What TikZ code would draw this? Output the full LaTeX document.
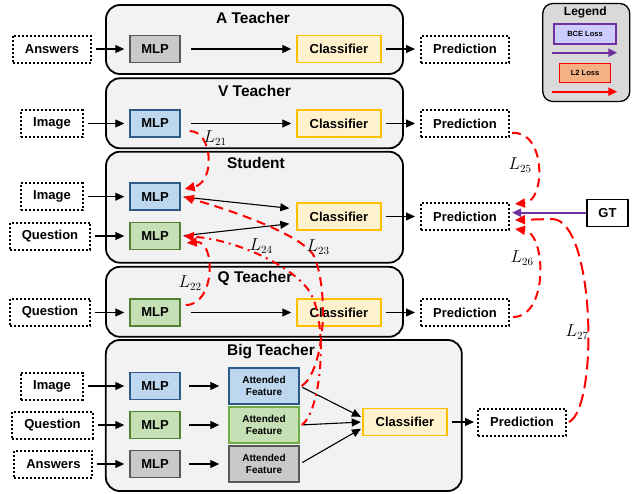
\documentclass[tikz,border=0pt]{standalone}
\usepackage{amsmath}
\usepackage{fontspec}
\setmainfont{Liberation Sans}
\usetikzlibrary{arrows.meta,positioning}

\definecolor{bluefill}{HTML}{BDD7EE}
\definecolor{bluedraw}{HTML}{2E5A87}
\definecolor{greenfill}{HTML}{C5E0B4}
\definecolor{greendraw}{HTML}{548235}
\definecolor{lightgreendraw}{HTML}{70AD47}
\definecolor{grayfill}{HTML}{C9C9C9}
\definecolor{graydraw}{HTML}{595959}
\definecolor{clsfill}{HTML}{FFF2CC}
\definecolor{clsdraw}{HTML}{FFC000}
\definecolor{panelfill}{HTML}{F2F2F2}
\definecolor{legendfill}{HTML}{D9D9D9}
\definecolor{bcefill}{HTML}{CCCCFF}
\definecolor{bcedraw}{HTML}{7030A0}
\definecolor{ltwofill}{HTML}{F4B183}

\begin{document}
\begin{tikzpicture}[x=1pt,y=-1pt,on grid,>={Triangle[length=9pt,width=8pt]},
		panel/.style={draw,line width=1.8pt,fill=panelfill,rounded corners=14pt,inner sep=0pt},
		paneltitle/.style={font=\fontsize{15.5}{18}\selectfont\bfseries},
		box/.style={draw,line width=1.5pt,minimum height=27pt,inner sep=0pt,font=\fontsize{13}{15}\selectfont\bfseries},
		inbox/.style={box,line width=2pt,dash pattern=on 2pt off 2pt,inner xsep=12pt},
		mlp/.style={box,minimum width=50pt},
		mlpblue/.style={mlp,fill=bluefill,draw=bluedraw},
		mlpgreen/.style={mlp,fill=greenfill,draw=greendraw},
		mlpgray/.style={mlp,fill=grayfill,draw=graydraw},
		cls/.style={box,minimum width=84pt,fill=clsfill,draw=clsdraw},
		pred/.style={inbox,minimum width=88pt},
		feat/.style={box,minimum width=70pt,minimum height=36pt,align=center,font=\fontsize{10}{12.5}\selectfont\bfseries},
		flow/.style={->,line width=1.1pt,shorten <=4pt,shorten >=5pt},
		bce/.style={->,draw=bcedraw,line width=2pt},
		ltwo/.style={->,>={Triangle[length=10pt,width=9pt]},red,line width=2pt,dash pattern=on 9pt off 6pt},
		ltwolong/.style={ltwo,dash pattern=on 13pt off 6pt},
		ltwodot/.style={ltwo,dash pattern=on 8pt off 5pt on 2pt off 5pt},
		losslabel/.style={font=\fontsize{16}{18}\selectfont}]
	\useasboundingbox (0,0) rectangle (634,493);

	% panels
	\node[panel,minimum width=297pt,minimum height=69pt] (pnlA) at (254.5,39.5) {};
	\node[panel,minimum width=297pt,minimum height=70pt] (pnlV) at (254.5,113.3) {};
	\node[panel,minimum width=297pt,minimum height=111pt] (pnlS) at (254.5,207.2) {};
	\node[panel,minimum width=297pt,minimum height=70pt] (pnlQ) at (254.5,301.8) {};
	\node[panel,minimum width=356pt,minimum height=151pt] (pnlB) at (283.8,415.5) {};
	\node[paneltitle] (ttlA) at (253,18) {A Teacher};
	\node[paneltitle] (ttlV) at (254.5,91) {V Teacher};
	\node[paneltitle] (ttlS) at (256,163) {Student};
	\node[paneltitle] (ttlQ) at (255,278) {Q Teacher};
	\node[paneltitle] (ttlB) at (271,352) {Big Teacher};

	% A teacher
	\node[mlpgray] (mlpA) at (155,49) {MLP};
	\node[inbox] (ansA) [left=103pt of mlpA] {Answers};
	\node[cls] (clsA) [right=184pt of mlpA] {Classifier};
	\node[pred] (predA) [right=126pt of clsA] {Prediction};

	% V teacher
	\node[mlpblue] (mlpV) at (155,123.5) {MLP};
	\node[inbox] (imgV) [left=103pt of mlpV] {Image};
	\node[cls] (clsV) [right=184pt of mlpV] {Classifier};
	\node[pred] (predV) [right=126pt of clsV] {Prediction};

	% student
	\node[mlpblue] (mlpSv) at (155,196.7) {MLP};
	\node[mlpgreen] (mlpSq) at (155,236) {MLP};
	\node[inbox] (imgS) [left=103pt of mlpSv] {Image};
	\node[inbox] (queS) [left=105pt of mlpSq] {Question};
	\node[cls] (clsS) at (339,216.5) {Classifier};
	\node[pred] (predS) [right=126pt of clsS] {Prediction};
	\node[box,line width=1.3pt,minimum width=41pt] (gt) at (607.5,212.7) {GT};

	% Q teacher
	\node[mlpgreen] (mlpQ) at (155,312.5) {MLP};
	\node[inbox] (queQ) [left=105pt of mlpQ] {Question};
	\node[cls] (clsQ) [right=184pt of mlpQ] {Classifier};
	\node[pred] (predQ) [right=126pt of clsQ] {Prediction};

	% big teacher
	\node[mlpblue] (mlpBv) at (155,386) {MLP};
	\node[mlpgreen] (mlpBq) at (155,425) {MLP};
	\node[mlpgray] (mlpBa) at (155,464) {MLP};
	\node[inbox] (imgB) [left=103pt of mlpBv] {Image};
	\node[inbox] (queB) [left=102.5pt of mlpBq] {Question};
	\node[inbox] (ansB) [left=101.6pt of mlpBa] {Answers};
	\node[feat,fill=bluefill,draw=bluedraw] (featBv) [right=109pt of mlpBv] {Attended\\Feature};
	\node[feat,fill=greenfill,draw=lightgreendraw] (featBq) [right=109pt of mlpBq] {Attended\\Feature};
	\node[feat,fill=grayfill,draw=graydraw] (featBa) [right=109pt of mlpBa] {Attended\\Feature};
	\node[cls] (clsB) at (405,422) {Classifier};
	\node[pred] (predB) [right=117pt of clsB] {Prediction};

	% legend
	\node[draw,line width=1.3pt,fill=legendfill,rounded corners=10pt,minimum width=87pt,minimum height=98pt] (lgd) at (586.3,52.5) {};
	\node[font=\fontsize{12}{14}\selectfont\bfseries] (lgdttl) at (585.3,12.7) {Legend};
	\node[draw=bcedraw,fill=bcefill,line width=1.3pt,minimum width=62pt,minimum height=20pt,inner sep=0pt,font=\fontsize{7.5}{8}\selectfont\bfseries] (lgdbce) at (585,34) {BCE Loss};
	\node[draw=red,fill=ltwofill,line width=1.3pt,minimum width=51pt,minimum height=19pt,inner sep=0pt,font=\fontsize{7.5}{8}\selectfont\bfseries] (lgdltwo) at (585,73) {L2 Loss};
	\coordinate (bceS) at (551.7,52.7);
	\coordinate (bceE) at (617.3,52.7);
	\coordinate (ltwoS) at (551.7,91.7);
	\coordinate (ltwoE) at (617.3,91.7);
	\draw[bce] (bceS) -- (bceE);
	\draw[->,red,line width=2pt] (ltwoS) -- (ltwoE);

	% data flow
	\path[flow]
		(ansA) edge (mlpA)
		(mlpA) edge[shorten <=10pt] (clsA)
		(clsA) edge (predA)
		(imgV) edge (mlpV)
		(mlpV) edge[shorten <=10pt] (clsV)
		(clsV) edge (predV)
		(imgS) edge (mlpSv)
		(queS) edge (mlpSq)
		(mlpSv.east) edge[shorten <=3pt,shorten >=7pt] ([yshift=7.5pt]clsS.west)
		(mlpSq.east) edge[shorten <=3pt,shorten >=7pt] ([yshift=-6.5pt]clsS.west)
		(clsS) edge (predS)
		(queQ) edge (mlpQ)
		(mlpQ) edge[shorten <=10pt] (clsQ)
		(clsQ) edge (predQ)
		(imgB) edge (mlpBv)
		(queB) edge (mlpBq)
		(ansB) edge (mlpBa)
		(mlpBv) edge[shorten <=8pt,shorten >=9pt] (featBv)
		(mlpBq) edge[shorten <=8pt,shorten >=9pt] (featBq)
		(mlpBa) edge[shorten <=8pt,shorten >=9pt] (featBa)
		(featBv.east) edge[shorten <=3pt,shorten >=1.5pt] ([yshift=4.5pt]clsB.west)
		(featBq.east) edge[shorten <=3pt,shorten >=1.5pt] (clsB.west)
		(featBa.east) edge[shorten <=3pt,shorten >=1.5pt] ([yshift=-6pt]clsB.west)
		(clsB) edge[shorten >=3pt] (predB);
	\draw[bce,shorten >=2pt] (gt.west) -- (gt.west -| predS.east);

	% distillation losses
	\draw[ltwo] ([shift={(9,7.5)}]mlpV.east) .. controls +(23,0) and +(31,-7) .. ([shift={(4,-7.7)}]mlpSv.east);
	\draw[ltwo] ([shift={(5,-7.5)}]mlpQ.east) .. controls +(30,0) and +(29,-3) .. ([shift={(6,7)}]mlpSq.east);
	\draw[ltwo] ([xshift=2pt]featBv.east) .. controls +(21,-14) and +(15,42) .. (315,258) .. controls +(-8,-20) and +(62,18) .. ([xshift=3pt]mlpSv.east);
	\draw[ltwodot] ([xshift=2pt]featBq.east) .. controls +(19,-13.5) and +(16,34) .. (312,296) .. controls +(-12,-26) and +(57,4) .. ([xshift=3pt]mlpSq.east);
	\draw[ltwo] ([shift={(2,9.5)}]predV.east) .. controls +(34,-3) and +(31,-3) .. ([shift={(5,-12.5)}]predS.east);
	\draw[ltwo] ([shift={(3,4.5)}]predQ.east) .. controls +(36,0) and +(31,4) .. ([shift={(5,12.5)}]predS.east);
	\draw[ltwolong] ([xshift=2pt]predB.east) .. controls +(30,-15) and +(43,0) .. (552,219) -- ([shift={(5,3.5)}]predS.east);
	\node[losslabel] (lbl21) at (215,138) {$L_{21}$};
	\node[losslabel] (lbl22) at (190,283) {$L_{22}$};
	\node[losslabel] (lbl23) at (318,247) {$L_{23}$};
	\node[losslabel] (lbl24) at (261,246) {$L_{24}$};
	\node[losslabel] (lbl25) at (520,165) {$L_{25}$};
	\node[losslabel] (lbl26) at (522,258) {$L_{26}$};
	\node[losslabel] (lbl27) at (577,332) {$L_{27}$};
\end{tikzpicture}
\end{document}
